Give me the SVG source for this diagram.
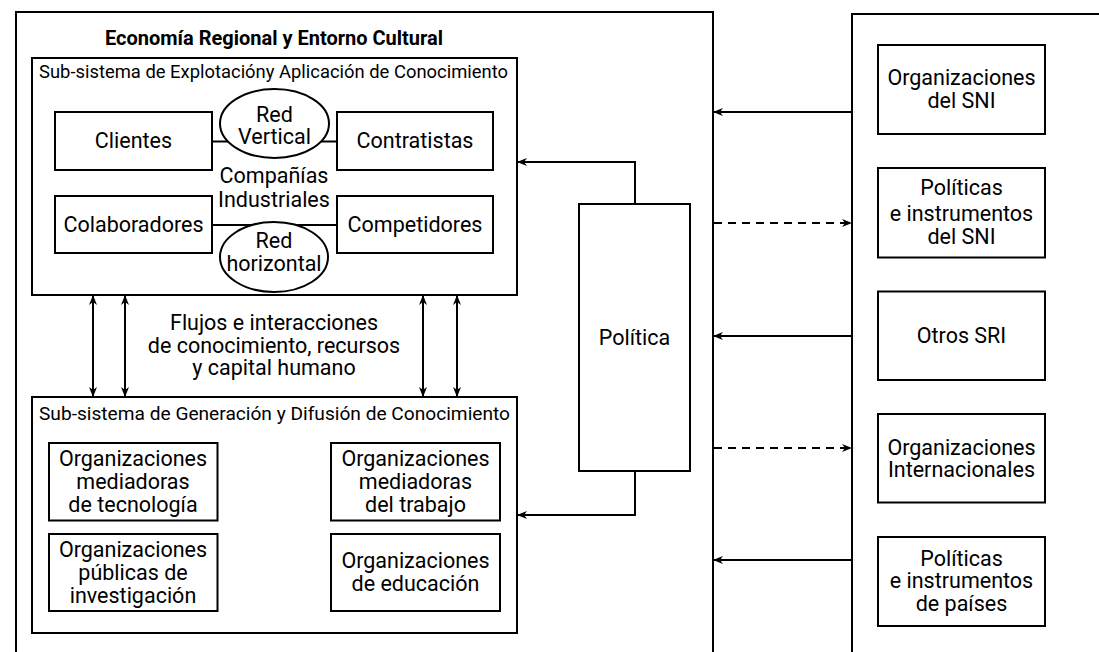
<svg xmlns="http://www.w3.org/2000/svg" width="1099" height="652" viewBox="0 0 1099 652">
  <style>
    .box { fill: #fff; stroke: #000; stroke-width: 2; }
    .frame { fill: none; stroke: #000; stroke-width: 2; }
    .t { font-family: Roboto, "Liberation Sans", sans-serif; font-size: 21.5px; fill: #000; text-anchor: middle; }
    .sub { font-family: Roboto, "Liberation Sans", sans-serif; font-size: 19px; fill: #000; }
    .title { font-family: Roboto, "Liberation Sans", sans-serif; font-size: 20px; font-weight: bold; fill: #000; text-anchor: middle; }
    .ln { fill: none; stroke: #000; stroke-width: 2; }
    .dash { stroke-dasharray: 8 6; }
  </style>
  <defs>
    <marker id="ah" viewBox="0 0 10 10" refX="9" refY="5" markerWidth="10" markerHeight="10" markerUnits="userSpaceOnUse" orient="auto-start-reverse">
      <path d="M0,1 L10,5 L0,9 L3,5 Z" fill="#000"/>
    </marker>
  </defs>
  <rect width="1099" height="652" fill="#fff"/>

  <!-- outer frames -->
  <g id="regional">
    <path class="frame" d="M16,660 V12 H713 V660"/>
    <text class="title" x="274" y="45">Economía Regional y Entorno Cultural</text>
  </g>
  <g id="external">
    <path class="frame" d="M852,660 V14 H1105"/>
  </g>

  <!-- connectors -->
  <g id="connectors">
    <line class="ln" x1="212" y1="141.5" x2="337" y2="141.5"/>
    <line class="ln" x1="212" y1="225" x2="337" y2="225"/>
    <line class="ln" x1="93" y1="296" x2="93" y2="396" marker-start="url(#ah)" marker-end="url(#ah)"/>
    <line class="ln" x1="125" y1="296" x2="125" y2="396" marker-start="url(#ah)" marker-end="url(#ah)"/>
    <line class="ln" x1="423" y1="296" x2="423" y2="396" marker-start="url(#ah)" marker-end="url(#ah)"/>
    <line class="ln" x1="457" y1="296" x2="457" y2="396" marker-start="url(#ah)" marker-end="url(#ah)"/>
    <path class="ln" d="M635,204 V162 H518" marker-end="url(#ah)"/>
    <path class="ln" d="M635,471 V515 H518" marker-end="url(#ah)"/>
    <line class="ln" x1="852" y1="112" x2="714" y2="112" marker-end="url(#ah)"/>
    <line class="ln dash" x1="714" y1="223" x2="851" y2="223" marker-end="url(#ah)"/>
    <line class="ln" x1="852" y1="336" x2="714" y2="336" marker-end="url(#ah)"/>
    <line class="ln dash" x1="714" y1="448" x2="851" y2="448" marker-end="url(#ah)"/>
    <line class="ln" x1="852" y1="560" x2="714" y2="560" marker-end="url(#ah)"/>
  </g>

  <!-- knowledge exploitation subsystem -->
  <g id="explotacion">
    <rect class="frame" x="32" y="58" width="485" height="237"/>
    <text class="sub" x="39" y="78" textLength="469" lengthAdjust="spacingAndGlyphs">Sub-sistema de Explotacióny Aplicación de Conocimiento</text>
  </g>
  <g id="clientes">
    <rect class="box" x="55" y="112" width="157" height="58"/>
    <text class="t" x="133.5" y="148">Clientes</text>
  </g>
  <g id="contratistas">
    <rect class="box" x="337" y="112" width="156" height="58"/>
    <text class="t" x="415" y="148">Contratistas</text>
  </g>
  <g id="colaboradores">
    <rect class="box" x="55" y="196" width="157" height="57"/>
    <text class="t" x="133.5" y="232">Colaboradores</text>
  </g>
  <g id="competidores">
    <rect class="box" x="337" y="196" width="156" height="57"/>
    <text class="t" x="415" y="232">Competidores</text>
  </g>
  <g id="red-vertical">
    <ellipse class="box" cx="274.5" cy="123.5" rx="54.5" ry="34.5"/>
    <text class="t" x="274.5" y="122">Red</text>
    <text class="t" x="274.5" y="144">Vertical</text>
  </g>
  <g id="companias">
    <text class="t" x="274" y="183">Compañías</text>
    <text class="t" x="274" y="207">Industriales</text>
  </g>
  <g id="red-horizontal">
    <ellipse class="box" cx="274" cy="257" rx="54" ry="35"/>
    <text class="t" x="274" y="248">Red</text>
    <text class="t" x="274" y="271">horizontal</text>
  </g>

  <!-- flows label -->
  <g id="flujos">
    <text class="t" x="274" y="330">Flujos e interacciones</text>
    <text class="t" x="274" y="353">de conocimiento, recursos</text>
    <text class="t" x="274" y="375">y capital humano</text>
  </g>

  <!-- knowledge generation subsystem -->
  <g id="generacion">
    <rect class="frame" x="32" y="397" width="485" height="236"/>
    <text class="sub" x="39" y="420" textLength="471" lengthAdjust="spacingAndGlyphs">Sub-sistema de Generación y Difusión de Conocimiento</text>
  </g>
  <g id="med-tecnologia">
    <rect class="box" x="49" y="443" width="168.5" height="77.5"/>
    <text class="t" x="133" y="466">Organizaciones</text>
    <text class="t" x="133" y="489">mediadoras</text>
    <text class="t" x="133" y="512">de tecnología</text>
  </g>
  <g id="investigacion">
    <rect class="box" x="49" y="534" width="168.5" height="77"/>
    <text class="t" x="133" y="557">Organizaciones</text>
    <text class="t" x="133" y="580">públicas de</text>
    <text class="t" x="133" y="603">investigación</text>
  </g>
  <g id="med-trabajo">
    <rect class="box" x="331" y="443" width="169" height="77.5"/>
    <text class="t" x="415.5" y="466">Organizaciones</text>
    <text class="t" x="415.5" y="489">mediadoras</text>
    <text class="t" x="415.5" y="512">del trabajo</text>
  </g>
  <g id="educacion">
    <rect class="box" x="331" y="534" width="169" height="77"/>
    <text class="t" x="415.5" y="568">Organizaciones</text>
    <text class="t" x="415.5" y="591">de educación</text>
  </g>

  <!-- policy -->
  <g id="politica">
    <rect class="box" x="579" y="204" width="111" height="267"/>
    <text class="t" x="634.5" y="345">Política</text>
  </g>

  <!-- external actors -->
  <g id="org-sni">
    <rect class="box" x="878" y="45" width="167" height="89"/>
    <text class="t" x="961.5" y="85">Organizaciones</text>
    <text class="t" x="961.5" y="108">del SNI</text>
  </g>
  <g id="pol-sni">
    <rect class="box" x="878" y="168" width="167" height="89.5"/>
    <text class="t" x="961.5" y="195">Políticas</text>
    <text class="t" x="961.5" y="221">e instrumentos</text>
    <text class="t" x="961.5" y="244">del SNI</text>
  </g>
  <g id="otros-sri">
    <rect class="box" x="878" y="291.5" width="167" height="88.5"/>
    <text class="t" x="961.5" y="343">Otros SRI</text>
  </g>
  <g id="org-internacionales">
    <rect class="box" x="878" y="414" width="167" height="88.5"/>
    <text class="t" x="961.5" y="455">Organizaciones</text>
    <text class="t" x="961.5" y="477">Internacionales</text>
  </g>
  <g id="pol-paises">
    <rect class="box" x="878" y="537" width="167" height="89"/>
    <text class="t" x="961.5" y="566">Políticas</text>
    <text class="t" x="961.5" y="588">e instrumentos</text>
    <text class="t" x="961.5" y="611">de países</text>
  </g>
</svg>
